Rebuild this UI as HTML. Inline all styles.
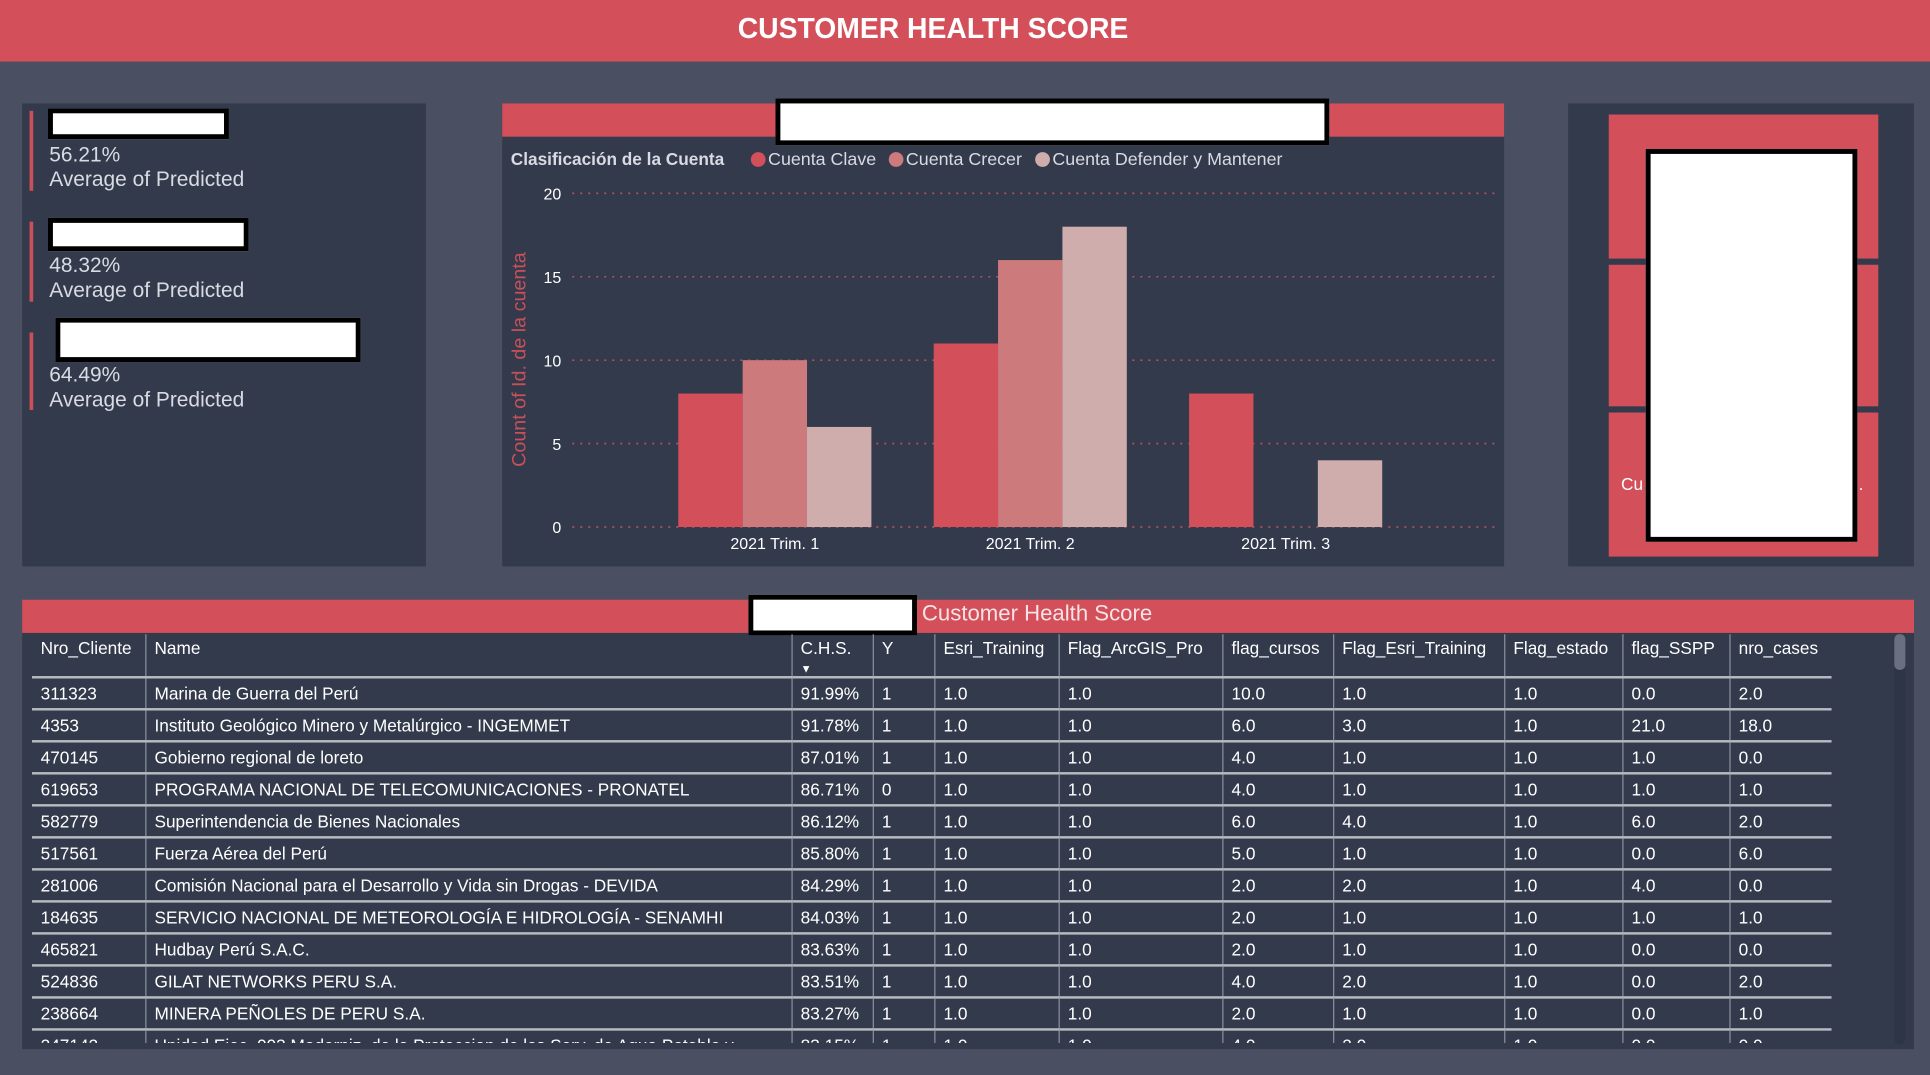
<!DOCTYPE html>
<html><head><meta charset="utf-8">
<style>
html,body{margin:0;padding:0;width:1930px;height:1075px;overflow:hidden;background:#4a5061;font-family:"Liberation Sans",Arial,sans-serif}
#wrap{position:absolute;left:0;top:0;width:1568px;height:873px;transform:scale(1.23087,1.23139);transform-origin:0 0}
.abs{position:absolute}
.card{position:absolute;background:#323a4c}
.wbox{position:absolute;background:#fff;border:4px solid #000;box-sizing:border-box}
.kv{position:absolute;color:#d9dbe2;font-size:17px;line-height:20px}
.rbar{position:absolute;left:24px;width:3px;background:#c9505a}
table{border-collapse:collapse;font-size:14px;color:#fff}
td,th{padding:0 7px;height:26px;white-space:nowrap;overflow:hidden;text-align:left;font-weight:normal;border-left:1px solid #8a8f9a;border-bottom:2px solid #b7bac1;box-sizing:border-box}
td:first-child,th:first-child{border-left:none}
th{height:31px;vertical-align:top;padding-top:4px;line-height:15px}
</style></head>
<body>
<div id="wrap">
  <div class="abs" style="left:0;top:0;width:1568px;height:50px;background:#d34f5a"></div>
  <div class="abs" style="left:0;top:10px;width:1516px;text-align:center;color:#fff;font-weight:bold;font-size:23px">CUSTOMER HEALTH SCORE</div>

  <div class="card" style="left:18px;top:84px;width:328px;height:376px"></div>
  <div class="rbar" style="top:90px;height:65px"></div>
  <div class="rbar" style="top:180px;height:65px"></div>
  <div class="rbar" style="top:270px;height:63px"></div>
  <div class="wbox" style="left:39px;top:88px;width:147px;height:25px"></div>
  <div class="wbox" style="left:39px;top:177px;width:163px;height:27px"></div>
  <div class="wbox" style="left:45px;top:258px;width:248px;height:36px"></div>
  <div class="kv" style="left:40px;top:116px">56.21%<br>Average of Predicted</div>
  <div class="kv" style="left:40px;top:206px">48.32%<br>Average of Predicted</div>
  <div class="kv" style="left:40px;top:295px">64.49%<br>Average of Predicted</div>

  <div class="card" style="left:408px;top:84px;width:814px;height:376px"></div>
  <div class="abs" style="left:408px;top:84px;width:814px;height:27px;background:#d34f5a"></div>
  <div class="wbox" style="left:630px;top:80px;width:450px;height:38px"></div>
  <svg class="abs" id="chart" style="left:408px;top:111px" width="814" height="349"></svg>

  <div class="card" style="left:1274px;top:84px;width:281px;height:376px"></div>
  <div class="abs" style="left:1307px;top:93px;width:219px;height:117px;background:#d34f5a"></div>
  <div class="abs" style="left:1307px;top:215px;width:219px;height:115px;background:#d34f5a"></div>
  <div class="abs" style="left:1307px;top:335px;width:219px;height:117px;background:#d34f5a"></div>
  <div class="abs" style="left:1317px;top:385px;color:#fff;font-size:14px">Cu</div>
  <div class="abs" style="left:1510px;top:385px;color:#fff;font-size:14px">.</div>
  <div class="wbox" style="left:1337px;top:121px;width:172px;height:319px"></div>

  <div class="card" style="left:18px;top:487px;width:1537px;height:365px"></div>
  <div class="abs" style="left:18px;top:487px;width:1537px;height:27px;background:#d34f5a"></div>
  <div class="abs" style="left:749px;top:488px;color:#f7e3e5;font-size:18px">Customer Health Score</div>
  <div class="wbox" style="left:608px;top:483px;width:137px;height:33px"></div>
  <div class="abs" style="left:1539px;top:515px;width:9px;height:333px;background:#2e3545;border-radius:4px"></div>
  <div class="abs" style="left:1539px;top:515px;width:9px;height:29px;background:#6b7080;border-radius:4px"></div>
  <div class="abs" style="left:26px;top:515px;width:1463px;height:332px;overflow:hidden">
  <table style="table-layout:fixed;width:1462px">
  <colgroup><col style="width:92px"><col style="width:525px"><col style="width:66px"><col style="width:50px"><col style="width:101px"><col style="width:133px"><col style="width:90px"><col style="width:139px"><col style="width:96px"><col style="width:87px"><col style="width:83px"></colgroup>
  <tr style="height:31px"><th>Nro_Cliente</th><th>Name</th><th>C.H.S.<br><span style="font-size:9px;line-height:9px">&#9660;</span></th><th>Y</th><th>Esri_Training</th><th>Flag_ArcGIS_Pro</th><th>flag_cursos</th><th>Flag_Esri_Training</th><th>Flag_estado</th><th>flag_SSPP</th><th>nro_cases</th></tr>
  <tr><td>311323</td><td>Marina de Guerra del Perú</td><td>91.99%</td><td>1</td><td>1.0</td><td>1.0</td><td>10.0</td><td>1.0</td><td>1.0</td><td>0.0</td><td>2.0</td></tr>
  <tr><td>4353</td><td>Instituto Geológico Minero y Metalúrgico - INGEMMET</td><td>91.78%</td><td>1</td><td>1.0</td><td>1.0</td><td>6.0</td><td>3.0</td><td>1.0</td><td>21.0</td><td>18.0</td></tr>
  <tr><td>470145</td><td>Gobierno regional de loreto</td><td>87.01%</td><td>1</td><td>1.0</td><td>1.0</td><td>4.0</td><td>1.0</td><td>1.0</td><td>1.0</td><td>0.0</td></tr>
  <tr><td>619653</td><td>PROGRAMA NACIONAL DE TELECOMUNICACIONES - PRONATEL</td><td>86.71%</td><td>0</td><td>1.0</td><td>1.0</td><td>4.0</td><td>1.0</td><td>1.0</td><td>1.0</td><td>1.0</td></tr>
  <tr><td>582779</td><td>Superintendencia de Bienes Nacionales</td><td>86.12%</td><td>1</td><td>1.0</td><td>1.0</td><td>6.0</td><td>4.0</td><td>1.0</td><td>6.0</td><td>2.0</td></tr>
  <tr><td>517561</td><td>Fuerza Aérea del Perú</td><td>85.80%</td><td>1</td><td>1.0</td><td>1.0</td><td>5.0</td><td>1.0</td><td>1.0</td><td>0.0</td><td>6.0</td></tr>
  <tr><td>281006</td><td>Comisión Nacional para el Desarrollo y Vida sin Drogas - DEVIDA</td><td>84.29%</td><td>1</td><td>1.0</td><td>1.0</td><td>2.0</td><td>2.0</td><td>1.0</td><td>4.0</td><td>0.0</td></tr>
  <tr><td>184635</td><td>SERVICIO NACIONAL DE METEOROLOGÍA E HIDROLOGÍA - SENAMHI</td><td>84.03%</td><td>1</td><td>1.0</td><td>1.0</td><td>2.0</td><td>1.0</td><td>1.0</td><td>1.0</td><td>1.0</td></tr>
  <tr><td>465821</td><td>Hudbay Perú S.A.C.</td><td>83.63%</td><td>1</td><td>1.0</td><td>1.0</td><td>2.0</td><td>1.0</td><td>1.0</td><td>0.0</td><td>0.0</td></tr>
  <tr><td>524836</td><td>GILAT NETWORKS PERU S.A.</td><td>83.51%</td><td>1</td><td>1.0</td><td>1.0</td><td>4.0</td><td>2.0</td><td>1.0</td><td>0.0</td><td>2.0</td></tr>
  <tr><td>238664</td><td>MINERA PEÑOLES DE PERU S.A.</td><td>83.27%</td><td>1</td><td>1.0</td><td>1.0</td><td>2.0</td><td>1.0</td><td>1.0</td><td>0.0</td><td>1.0</td></tr>
  <tr><td>247142</td><td>Unidad Ejec. 003 Moderniz. de la Proteccion de los Serv. de Agua Potable y...</td><td>83.15%</td><td>1</td><td>1.0</td><td>1.0</td><td>4.0</td><td>2.0</td><td>1.0</td><td>0.0</td><td>0.0</td></tr>
  </table>
  </div>
</div>
<script>
const categories = ["2021 Trim. 1","2021 Trim. 2","2021 Trim. 3"];
const seriesNames = ["Cuenta Clave","Cuenta Crecer","Cuenta Defender y Mantener"];
const clave = [8, 11, 8];
const crecer = [10, 16, 0];
const defender = [6, 18, 4];
const yTicks = [0, 5, 10, 15, 20];
const colors = ["#d34f5a","#cc7a7b","#d0adad"];

const svg = document.getElementById('chart');
const NS = 'http://www.w3.org/2000/svg';
const plotTop = 46, plotBottom = 317, yMax = 20;
const plotLeft = 57, plotRight = 808;
const firstCenter = 221.5, groupStep = 207.5, barW = 52.3;
function yScale(v){ return plotBottom - (v / yMax) * (plotBottom - plotTop); }
function xCenter(i){ return firstCenter + i * groupStep; }
function mk(tag, attrs, text){
  const e = document.createElementNS(NS, tag);
  for (const k in attrs) e.setAttribute(k, attrs[k]);
  if (text !== undefined) e.textContent = text;
  svg.appendChild(e);
  return e;
}
yTicks.forEach(t => {
  const g = mk('line', {x1: plotLeft, x2: plotRight, y1: yScale(t), y2: yScale(t), stroke: '#c9505a', 'stroke-width': 1.3, 'stroke-dasharray': '1.5 5'});
  
  
  const l = mk('text', {x: 48, y: yScale(t) + 5, 'text-anchor': 'end', fill: '#fff', 'font-size': 13, 'font-family': 'Liberation Sans, sans-serif'}, String(t));
  
  
});
const series = [clave, crecer, defender];
series.forEach((vals, s) => {
  vals.forEach((v, i) => {
    if (v <= 0) return;
    const x = xCenter(i) - 1.5 * barW + s * barW;
    const r = mk('rect', {x: x, y: yScale(v), width: barW, height: yScale(0) - yScale(v), fill: colors[s]});
    
    
  });
});
categories.forEach((c, i) => {
  const t = mk('text', {x: xCenter(i), y: 335, 'text-anchor': 'middle', fill: '#fff', 'font-size': 13, 'font-family': 'Liberation Sans, sans-serif'}, c);
  
  
});
const at = mk('text', {x: 0, y: 0, transform: 'translate(19,181) rotate(-90)', 'text-anchor': 'middle', fill: '#c9505a', 'font-size': 16, 'font-family': 'Liberation Sans, sans-serif'}, 'Count of Id. de la cuenta');


const lt = mk('text', {x: 7, y: 23, fill: '#d9dbe2', 'font-size': 14, 'font-weight': 'bold', 'font-family': 'Liberation Sans, sans-serif'}, 'Clasificación de la Cuenta');


const legendX = [202, 314, 433];
seriesNames.forEach((n, s) => {
  const c = mk('circle', {cx: legendX[s] + 6, cy: 18.5, r: 6, fill: colors[s]});
  
  
  const t = mk('text', {x: legendX[s] + 14, y: 23, fill: '#d9dbe2', 'font-size': 14.5, 'font-family': 'Liberation Sans, sans-serif'}, n);
  
  
});
</script>
</body></html>
